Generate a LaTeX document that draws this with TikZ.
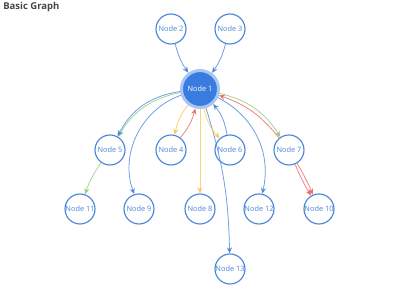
\documentclass[tikz,border=0pt]{standalone}
\usepackage{fontspec}
\setmainfont{Open Sans}
\usetikzlibrary{arrows.meta}
\usepackage{xcolor}
\definecolor{nodeblue}{HTML}{4A86DC}
\definecolor{hubblue}{HTML}{3A7BE0}
\definecolor{halo}{HTML}{A8C6F2}
\definecolor{egreen}{HTML}{91CC75}
\definecolor{eorange}{HTML}{FAC858}
\definecolor{ered}{HTML}{EE6666}
\definecolor{titlegray}{HTML}{464646}
\tikzset{
  vertex/.style = {circle, draw=nodeblue, line width=0.65pt, fill=white,
                   minimum size=0.6cm, inner sep=0pt, text=nodeblue,
                   font=\fontsize{4.2}{5}\selectfont},
  hub/.style    = {vertex, fill=hubblue, draw=halo, line width=1.7pt,
                   minimum size=0.74cm, text=white},
  link/.style   = {-{Stealth[length=3.5pt, width=3pt]}, line width=0.45pt,
                   draw=nodeblue, draw opacity=0.8},
  glink/.style  = {link, draw=egreen},
  olink/.style  = {link, draw=eorange},
  rlink/.style  = {link, draw=ered}
}
\begin{document}
\begin{tikzpicture}[x=0.02cm, y=0.02cm]
\fill[white] (0,0) rectangle (400,-300);
\useasboundingbox (0,0) rectangle (400,-300);
\node[anchor=base west, inner sep=0pt, text=titlegray,
      font=\bfseries\fontsize{5.4}{6}\selectfont] at (3,-10) (title) {Basic Graph};

\node[hub]    at (200, -89) (n1)  {Node 1};
\node[vertex] at (171, -29) (n2)  {Node 2};
\node[vertex] at (230, -29) (n3)  {Node 3};
\node[vertex] at (171,-150) (n4)  {Node 4};
\node[vertex] at (110,-150) (n5)  {Node 5};
\node[vertex] at (230,-150) (n6)  {Node 6};
\node[vertex] at (289,-150) (n7)  {Node 7};
\node[vertex] at (200,-209) (n8)  {Node 8};
\node[vertex] at (139,-209) (n9)  {Node 9};
\node[vertex] at (319,-209) (n10) {Node 10};
\node[vertex] at ( 80,-209) (n11) {Node 11};
\node[vertex] at (259,-209) (n12) {Node 12};
\node[vertex] at (230,-269) (n13) {Node 13};

\draw[link]  (n2) to[bend right=10] (n1);
\draw[link]  (n3) to[bend left=10]  (n1);
\draw[glink] (n1) to[bend right=24] (n5);
\draw[link]  (n1) to[bend right=27] (n5);
\draw[glink] (n5) to[bend right=8]  (n11);
\draw[link]  (n1) to[bend right=45] (n9);
\draw[olink] (n1) to[bend right=12] (n4);
\draw[rlink] (n4) to[bend right=12] (n1);
\draw[olink] (n1) -- (n8);
\draw[link]  (n1) to[bend left=8]   (n13);
\draw[olink] (n1) to[bend right=15] (n6);
\draw[link]  (n6) to[bend right=15] (n1);
\draw[link]  (n1) to[bend left=38]  (n12);
\draw[glink] (n1) to[bend left=22]  (n7);
\draw[rlink] (n7) to[bend right=16] (n1);
\draw[rlink] (n7) to[bend left=4]   (n10);
\draw[rlink] (n7) to[bend right=4]  (n10);
\end{tikzpicture}
\end{document}
